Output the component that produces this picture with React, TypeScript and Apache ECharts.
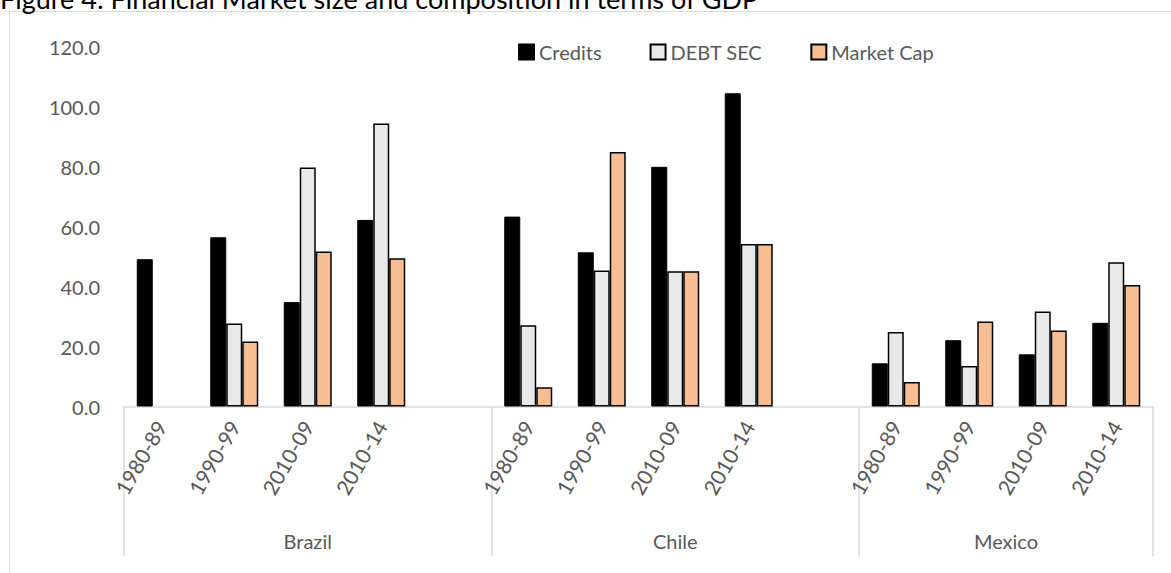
import React, { useEffect, useRef } from "react";
import * as echarts from "echarts";

const categoryLabels = [
  "1980-89", "1990-99", "2010-09", "2010-14", "",
  "1980-89", "1990-99", "2010-09", "2010-14", "",
  "1980-89", "1990-99", "2010-09", "2010-14",
];
const credits = [49.1, 56.4, 34.8, 62.2, null, 63.3, 51.4, 79.9, 104.4, null, 14.4, 22.1, 17.4, 27.9];
const debtSec = [null, 27.7, 79.7, 94.3, null, 27.1, 45.3, 45.1, 54.2, null, 24.8, 13.5, 31.7, 48.1];
const marketCap = [null, 21.7, 51.7, 49.4, null, 6.4, 84.8, 45.1, 54.2, null, 8.2, 28.3, 25.3, 40.5];
const countries = ["Brazil", "Chile", "Mexico"];
const groupSizes = [5, 5, 4];
const yTicks = [0, 20, 40, 60, 80, 100, 120];
const title = "Figure 4: Financial Market size and composition in terms of GDP";

const FONT = "Lato, 'Open Sans', sans-serif";
const GRAY = "#595959";

export default function App() {
  const ref = useRef<HTMLDivElement>(null);
  useEffect(() => {
    if (!ref.current) return;
    const chart = echarts.init(ref.current, null, { renderer: "svg" });
    const bounds: number[] = [0];
    const centers: number[] = [];
    groupSizes.forEach((s, i) => {
      const start = bounds[i];
      bounds.push(start + s);
      centers.push(start + s / 2);
    });
    const total = bounds[bounds.length - 1];
    const grid = { left: 124, right: 18, top: 46.5, bottom: 166.5 };
    chart.setOption({
      animation: false,
      textStyle: { fontFamily: FONT },
      grid,
      graphic: [
        {
          type: "rect",
          shape: { x: 9.5, y: 11.5, width: 1300, height: 700 },
          style: { fill: "none", stroke: "#d9d9d9", lineWidth: 1 },
          silent: true,
        },
        {
          type: "text",
          x: 0,
          y: -2,
          style: {
            text: title,
            font: `27px ${FONT}`,
            fill: "#000",
            verticalAlign: "middle",
          },
        },
      ],
      legend: {
        top: 37,
        left: 513,
        icon: "rect",
        itemWidth: 15,
        itemHeight: 15,
        itemGap: 48,
        textStyle: { color: GRAY, fontSize: 20, fontFamily: FONT },
        data: ["Credits", "DEBT SEC", "Market Cap"],
      },
      xAxis: [
        {
          type: "category",
          data: categoryLabels,
          axisLine: { lineStyle: { color: "#d9d9d9", width: 1.5 } },
          axisTick: { show: false },
          axisLabel: {
            rotate: 60,
            interval: 0,
            margin: 16,
            color: GRAY,
            fontSize: 21,
            fontFamily: FONT,
          },
        },
        {
          type: "value",
          min: 0,
          max: total,
          position: "bottom",
          axisLine: { show: false },
          splitLine: { show: false },
          axisTick: {
            show: true,
            length: 150,
            customValues: bounds,
            lineStyle: { color: "#d9d9d9", width: 1.5 },
          },
          axisLabel: {
            customValues: centers,
            margin: 124,
            color: GRAY,
            fontSize: 20,
            fontFamily: FONT,
            formatter: (v: number) => countries[centers.indexOf(v)] ?? "",
          },
        },
      ],
      yAxis: {
        type: "value",
        min: yTicks[0],
        max: yTicks[yTicks.length - 1],
        interval: yTicks[1] - yTicks[0],
        axisLine: { show: false },
        axisTick: { show: false },
        splitLine: { show: false },
        axisLabel: {
          margin: 24,
          color: GRAY,
          fontSize: 20,
          fontFamily: FONT,
          formatter: (v: number) => v.toFixed(1),
        },
      },
      series: [
        {
          name: "Credits",
          type: "bar",
          data: credits,
          barWidth: 16,
          barGap: "0%",
          itemStyle: { color: "#000000", borderColor: "#000000", borderWidth: 1 },
        },
        {
          name: "DEBT SEC",
          type: "bar",
          data: debtSec,
          barWidth: 16,
          barGap: "0%",
          itemStyle: { color: "#e9e9e9", borderColor: "#000000", borderWidth: 1.5 },
        },
        {
          name: "Market Cap",
          type: "bar",
          data: marketCap,
          barWidth: 16,
          barGap: "0%",
          itemStyle: { color: "#f8be93", borderColor: "#000000", borderWidth: 1.5 },
        },
      ],
    });
    return () => chart.dispose();
  }, []);
  return (
    <div
      ref={ref}
      style={{ position: "fixed", left: 0, top: 0, width: 1171, height: 573, background: "#fff" }}
    />
  );
}
